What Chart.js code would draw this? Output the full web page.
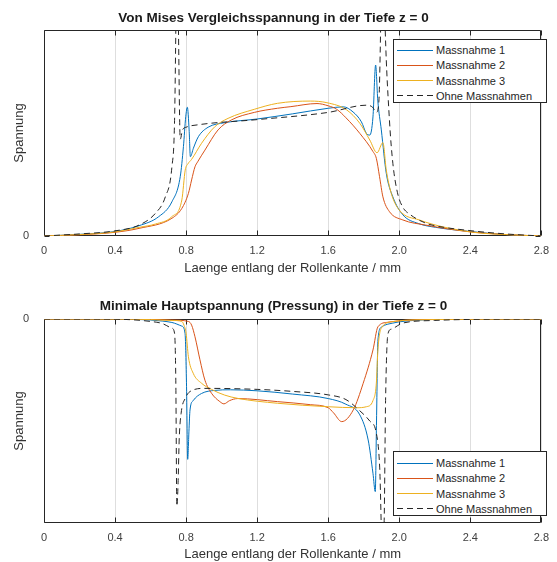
<!DOCTYPE html>
<html>
<head>
<title>Spannung in der Tiefe z = 0</title>
<script src="https://cdn.jsdelivr.net/npm/chart.js"></script>
<style>
body {
    margin: 0;
    background: #fff;
    font-family: "Liberation Sans", Arial, sans-serif;
}
.plot {
    position: relative;
    width: 557px;
    height: 281px;
}
.legend {
    position: absolute;
    box-sizing: border-box;
    background: #fff;
    border: 1px solid #262626;
    font-size: 11px;
    color: #262626;
}
.legend .row {
    display: flex;
    align-items: center;
    height: 15.3px;
}
.legend .sample {
    width: 36px;
    height: 1px;
    margin-left: 3px;
    margin-right: 3px;
}
</style>
</head>
<body>

<div class="plot">
    <canvas id="vmChart" width="557" height="281"></canvas>
    <div class="legend" id="vmLegend" style="left:393px; top:39px; width:154px; height:64px; padding-top:2.4px;"></div>
</div>
<div class="plot">
    <canvas id="mhChart" width="557" height="281"></canvas>
    <div class="legend" id="mhLegend" style="left:393px; top:170px; width:154px; height:65px; padding-top:3.4px;"></div>
</div>

<script>
// series names / colours (MATLAB default order)
const seriesNames = ['Massnahme 1', 'Massnahme 2', 'Massnahme 3', 'Ohne Massnahmen'];
const seriesColors = ['#0072BD', '#D95319', '#EDB120', '#262626'];
const seriesDashed = [false, false, false, true];

const xTicks = [0, 0.4, 0.8, 1.2, 1.6, 2, 2.4, 2.8];

// --- Von Mises Vergleichsspannung (top) ---
const vmX1 = [0, 0.2, 0.4, 0.535, 0.646, 0.72, 0.767, 0.785, 0.798, 0.807, 0.817, 0.824, 0.841, 0.869, 0.924, 1.017, 1.2, 1.4, 1.6, 1.685, 1.74, 1.787, 1.815, 1.834, 1.852, 1.867, 1.879, 1.899, 1.927, 1.964, 2.02, 2.11, 2.205, 2.4, 2.576, 2.8];
const vmY1 = [0, 0.008, 0.022, 0.05, 0.094, 0.166, 0.288, 0.434, 0.579, 0.625, 0.515, 0.385, 0.426, 0.482, 0.528, 0.55, 0.568, 0.593, 0.62, 0.627, 0.602, 0.554, 0.498, 0.49, 0.578, 0.83, 0.66, 0.515, 0.304, 0.19, 0.103, 0.06, 0.042, 0.022, 0.008, 0];

const vmX2 = [0, 0.2, 0.4, 0.535, 0.72, 0.776, 0.813, 0.831, 0.85, 0.865, 0.906, 0.98, 1.054, 1.184, 1.314, 1.39, 1.537, 1.6, 1.648, 1.7, 1.778, 1.852, 1.871, 1.889, 1.908, 1.945, 2.02, 2.149, 2.4, 2.6, 2.8];
const vmY2 = [0, 0.006, 0.018, 0.037, 0.086, 0.134, 0.207, 0.272, 0.336, 0.36, 0.417, 0.515, 0.563, 0.6, 0.62, 0.628, 0.643, 0.632, 0.615, 0.574, 0.498, 0.41, 0.377, 0.288, 0.19, 0.118, 0.078, 0.053, 0.02, 0.007, 0];

const vmX3 = [0, 0.2, 0.4, 0.535, 0.627, 0.72, 0.776, 0.795, 0.81, 0.831, 0.887, 0.961, 1.036, 1.184, 1.314, 1.5, 1.593, 1.704, 1.778, 1.834, 1.875, 1.908, 1.927, 1.955, 2.0, 2.112, 2.4, 2.6, 2.8];
const vmY3 = [0, 0.007, 0.02, 0.042, 0.058, 0.094, 0.175, 0.32, 0.35, 0.372, 0.45, 0.53, 0.571, 0.615, 0.644, 0.655, 0.647, 0.612, 0.547, 0.466, 0.404, 0.453, 0.32, 0.207, 0.126, 0.078, 0.02, 0.007, 0];

const vmX4 = [0, 0.2, 0.4, 0.535, 0.627, 0.683, 0.72, 0.735, 0.742, 0.748, 0.757, 0.767, 0.78, 0.8, 0.869, 1.2, 1.6, 1.815, 1.85, 1.871, 1.885, 1.895, 1.905, 1.921, 1.945, 1.964, 1.99, 2.02, 2.06, 2.15, 2.2, 2.4, 2.6, 2.8];
const vmY4 = [0, 0.01, 0.025, 0.053, 0.11, 0.19, 0.335, 0.56, 1.0, 1.6, 1.0, 0.47, 0.515, 0.528, 0.54, 0.565, 0.6, 0.635, 0.625, 0.6, 0.65, 1.0, 1.6, 1.0, 0.56, 0.353, 0.21, 0.14, 0.105, 0.062, 0.05, 0.026, 0.01, 0];

// --- Minimale Hauptspannung (bottom) ---
const mhX1 = [0, 0.3, 0.5, 0.6, 0.665, 0.72, 0.776, 0.794, 0.802, 0.809, 0.816, 0.822, 0.84, 0.887, 0.961, 1.05, 1.2, 1.4, 1.6, 1.7, 1.778, 1.825, 1.852, 1.865, 1.872, 1.88, 1.899, 1.964, 2.1, 2.3, 2.8];
const mhY1 = [0, 0, -0.002, -0.005, -0.01, -0.017, -0.035, -0.07, -0.31, -0.688, -0.55, -0.446, -0.4, -0.365, -0.35, -0.347, -0.352, -0.368, -0.39, -0.418, -0.47, -0.593, -0.756, -0.846, -0.5, -0.103, -0.04, -0.02, -0.006, -0.001, 0];

const mhX2 = [0, 0.4, 0.6, 0.72, 0.813, 0.831, 0.85, 0.878, 0.906, 0.943, 0.99, 1.013, 1.045, 1.09, 1.314, 1.5, 1.6, 1.63, 1.676, 1.741, 1.797, 1.852, 1.88, 1.936, 2.02, 2.2, 2.8];
const mhY2 = [0, 0, -0.002, -0.005, -0.012, -0.03, -0.087, -0.2, -0.3, -0.364, -0.405, -0.416, -0.4, -0.39, -0.405, -0.42, -0.435, -0.46, -0.503, -0.446, -0.315, -0.152, -0.038, -0.016, -0.007, -0.002, 0];

const mhX3 = [0, 0.4, 0.6, 0.72, 0.776, 0.788, 0.8, 0.813, 0.84, 0.887, 0.943, 1.017, 1.09, 1.314, 1.6, 1.76, 1.815, 1.852, 1.871, 1.88, 1.899, 1.964, 2.1, 2.8];
const mhY3 = [0, 0, -0.003, -0.007, -0.012, -0.03, -0.07, -0.185, -0.266, -0.315, -0.345, -0.373, -0.389, -0.413, -0.43, -0.435, -0.43, -0.4, -0.315, -0.15, -0.045, -0.013, -0.004, 0];

const mhX4 = [0, 0.3, 0.5, 0.6, 0.665, 0.72, 0.735, 0.742, 0.748, 0.755, 0.761, 0.772, 0.795, 0.831, 0.906, 1.2, 1.4, 1.6, 1.7, 1.778, 1.834, 1.871, 1.89, 1.905, 1.915, 1.923, 1.936, 1.955, 2.02, 2.2, 2.4, 2.8];
const mhY4 = [0, 0, -0.004, -0.012, -0.022, -0.045, -0.07, -0.3, -0.917, -0.8, -0.593, -0.462, -0.389, -0.351, -0.34, -0.345, -0.355, -0.372, -0.395, -0.45, -0.5, -0.56, -0.73, -1.15, -1.0, -0.4, -0.075, -0.05, -0.02, -0.007, -0.002, 0];

Chart.defaults.font.family = "'Liberation Sans', Arial, sans-serif";
Chart.defaults.color = '#404040';

// axes box with inward ticks, like MATLAB
const boxPlugin = {
    id: 'box',
    beforeDatasetsDraw(chart) {
        const { ctx, chartArea: a } = chart;
        const xs = chart.scales.x, ys = chart.scales.y;
        const l = Math.round(a.left) + 0.5, r = Math.round(a.right) - 0.5;
        const t = Math.round(a.top) + 0.5, b = Math.round(a.bottom) - 0.5;
        ctx.save();
        ctx.strokeStyle = '#262626';
        ctx.lineWidth = 1;
        ctx.beginPath();
        ctx.rect(l, t, r - l, b - t);
        xTicks.forEach(v => {
            const px = Math.round(xs.getPixelForValue(v)) + 0.5;
            ctx.moveTo(px, b); ctx.lineTo(px, b - 5);
            ctx.moveTo(px, t); ctx.lineTo(px, t + 5);
        });
        const py = Math.round(ys.getPixelForValue(0)) + 0.5;
        ctx.moveTo(l, py); ctx.lineTo(l + 5, py);
        ctx.moveTo(r, py); ctx.lineTo(r - 5, py);
        ctx.stroke();
        ctx.restore();
    }
};

function toPoints(xs, ys) {
    return xs.map((x, i) => ({ x: x, y: ys[i] }));
}

function makeDatasets(xsList, ysList) {
    return xsList.map((xs, i) => ({
        label: seriesNames[i],
        data: toPoints(xs, ysList[i]),
        borderColor: seriesColors[i],
        borderWidth: 1,
        borderDash: seriesDashed[i] ? [6, 4] : [],
        pointRadius: 0,
        cubicInterpolationMode: 'monotone',
        order: seriesNames.length - 1 - i
    }));
}

function makeChart(id, title, datasets, yMin, yMax, titlePad, xHeight, xTitlePad) {
    return new Chart(document.getElementById(id), {
        type: 'line',
        data: { datasets: datasets },
        plugins: [boxPlugin],
        options: {
            responsive: false,
            animation: false,
            layout: { padding: { left: 0, right: 10, top: 0, bottom: 0 } },
            plugins: {
                legend: { display: false },
                tooltip: { enabled: false },
                title: {
                    display: true,
                    text: title,
                    color: '#1a1a1a',
                    font: { size: 13.5, weight: 'bold' },
                    padding: titlePad
                }
            },
            scales: {
                x: {
                    type: 'linear',
                    min: 0,
                    max: 2.8,
                    afterBuildTicks: s => { s.ticks = xTicks.map(v => ({ value: v })); },
                    afterFit: s => { s.height = xHeight; },
                    ticks: { font: { size: 11 }, padding: 8, maxRotation: 0 },
                    grid: { color: '#dedede', drawTicks: false },
                    border: { display: false },
                    title: {
                        display: true,
                        text: 'Laenge entlang der Rollenkante / mm',
                        color: '#333',
                        font: { size: 13 },
                        padding: { top: 0, bottom: xTitlePad }
                    }
                },
                y: {
                    min: yMin,
                    max: yMax,
                    afterBuildTicks: s => { s.ticks = [{ value: 0 }]; },
                    afterFit: s => { s.width = 44; },
                    ticks: { font: { size: 11 }, padding: 7 },
                    grid: { display: false },
                    border: { display: false },
                    title: {
                        display: true,
                        text: 'Spannung',
                        color: '#333',
                        font: { size: 13 },
                        padding: { top: 11.5, bottom: 0 }
                    }
                }
            }
        }
    });
}

function buildLegend(id) {
    const box = document.getElementById(id);
    seriesNames.forEach((name, i) => {
        const row = document.createElement('div');
        row.className = 'row';
        const sample = document.createElement('span');
        sample.className = 'sample';
        sample.style.background = seriesDashed[i]
            ? 'repeating-linear-gradient(to right, ' + seriesColors[i] + ' 0 6px, transparent 6px 10px)'
            : seriesColors[i];
        const text = document.createElement('span');
        text.textContent = name;
        row.appendChild(sample);
        row.appendChild(text);
        box.appendChild(row);
    });
}

makeChart('vmChart', 'Von Mises Vergleichsspannung in der Tiefe z = 0',
    makeDatasets([vmX1, vmX2, vmX3, vmX4], [vmY1, vmY2, vmY3, vmY4]),
    0, 1, { top: 9.9, bottom: 3.9 }, 45, 5.2);

makeChart('mhChart', 'Minimale Hauptspannung (Pressung) in der Tiefe z = 0',
    makeDatasets([mhX1, mhX2, mhX3, mhX4], [mhY1, mhY2, mhY3, mhY4]),
    -1, 0, { top: 16.9, bottom: 4.9 }, 39, 0);

buildLegend('vmLegend');
buildLegend('mhLegend');
</script>
</body>
</html>
